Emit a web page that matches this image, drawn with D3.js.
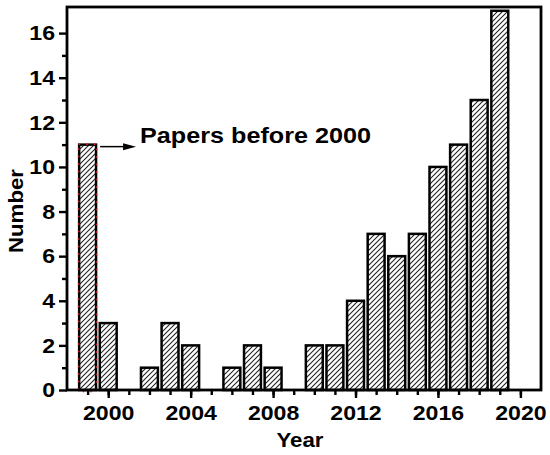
<!DOCTYPE html>
<html>
<head>
<meta charset="utf-8">
<script src="https://cdn.jsdelivr.net/npm/d3@7"></script>
<style>
  html, body { margin: 0; padding: 0; background: #fff; }
  svg { display: block; }
  text { font-family: "Liberation Sans", Arial, sans-serif; font-weight: bold; fill: #000; }
</style>
</head>
<body>
<svg id="chart" width="550" height="455"></svg>
<script>
// ---- data ----
const years = [1999, 2000, 2001, 2002, 2003, 2004, 2005, 2006, 2007, 2008, 2009,
               2010, 2011, 2012, 2013, 2014, 2015, 2016, 2017, 2018, 2019];
const counts = [11, 3, 0, 1, 3, 2, 0, 1, 2, 1, 0,
                2, 2, 4, 7, 6, 7, 10, 11, 13, 17];
const xTickLabels = [2000, 2004, 2008, 2012, 2016, 2020];
const yTickLabels = [0, 2, 4, 6, 8, 10, 12, 14, 16];
const annotationText = "Papers before 2000";
const xTitle = "Year";
const yTitle = "Number";

// ---- layout ----
const W = 550, H = 455;
const margin = { left: 67, top: 7, right: 9, bottom: 65 };
const iw = W - margin.left - margin.right;
const ih = H - margin.top - margin.bottom;

const svg = d3.select("#chart");
const defs = svg.append("defs");
const pat = defs.append("pattern")
  .attr("id", "hatch")
  .attr("patternUnits", "userSpaceOnUse")
  .attr("width", 5).attr("height", 5);
pat.append("rect").attr("width", 5).attr("height", 5).attr("fill", "#fff");
pat.append("path")
  .attr("d", "M0,5 L5,0 M-1,1 L1,-1 M4,6 L6,4")
  .attr("stroke", "#222").attr("stroke-width", 1.1);

const g = svg.append("g").attr("transform", `translate(${margin.left},${margin.top})`);

const x = d3.scaleLinear().domain([1998, 2021]).range([0, iw]);
const y = d3.scaleLinear().domain([0, 17.17]).range([ih, 0]);
const barW = (x(1) - x(0)) * 0.82;

// bars
const data = years.map((yr, i) => ({ year: yr, value: counts[i] }));
g.selectAll("rect.bar")
  .data(data.filter(d => d.value > 0))
  .enter().append("rect")
  .attr("class", "bar")
  .attr("x", d => x(d.year) - barW / 2)
  .attr("y", d => y(d.value))
  .attr("width", barW)
  .attr("height", d => y(0) - y(d.value))
  .attr("fill", "url(#hatch)")
  .attr("stroke", "#000")
  .attr("stroke-width", 2.5);

// red dotted highlight on first bar
const first = data[0];
g.append("rect")
  .attr("x", x(first.year) - barW / 2 - 0.5)
  .attr("y", y(first.value) - 0.5)
  .attr("width", barW + 1)
  .attr("height", y(0) - y(first.value) + 2)
  .attr("fill", "none")
  .attr("stroke", "#e0202a")
  .attr("stroke-width", 1.6)
  .attr("stroke-dasharray", "1.5,6");

// axes: minor ticks
const xMinor = d3.range(1999, 2021);
const xAxisMinor = d3.axisBottom(x).tickValues(xMinor).tickSize(5).tickFormat("");
const gxm = g.append("g").attr("transform", `translate(0,${ih})`).call(xAxisMinor);
const xAxis = d3.axisBottom(x).tickValues(xTickLabels).tickSize(8).tickPadding(7)
  .tickFormat(d3.format("d"));
const gx = g.append("g").attr("transform", `translate(0,${ih})`).call(xAxis);

const yMinor = d3.range(1, 17, 2);
const yAxisMinor = d3.axisLeft(y).tickValues(yMinor).tickSize(5).tickFormat("");
const gym = g.append("g").call(yAxisMinor);
const yAxis = d3.axisLeft(y).tickValues(yTickLabels).tickSize(8).tickPadding(4);
const gy = g.append("g").call(yAxis);

[gxm, gx, gym, gy].forEach(a => {
  a.select(".domain").remove();
  a.selectAll(".tick line").attr("stroke", "#000").attr("stroke-width", 2.4);
});
gx.selectAll(".tick text")
  .style("font-size", "21px")
  .attr("transform", "scale(1.1,1)")
  .attr("dy", "0.71em");
gy.selectAll(".tick text")
  .style("font-size", "21px")
  .attr("text-anchor", "end");
gy.selectAll(".tick text").each(function () {
  const t = d3.select(this);
  const xx = +t.attr("x");
  t.attr("x", null).attr("transform", `translate(${xx},0) scale(1.1,1)`);
});

// frame
g.append("rect")
  .attr("x", 0).attr("y", 0).attr("width", iw).attr("height", ih)
  .attr("fill", "none").attr("stroke", "#000").attr("stroke-width", 2.8);

// annotation arrow
const ax0 = x(first.year) + barW / 2 + 4;
const ay = y(11) + 2;
g.append("line")
  .attr("x1", ax0).attr("y1", ay).attr("x2", ax0 + 26).attr("y2", ay)
  .attr("stroke", "#000").attr("stroke-width", 1.5);
g.append("path")
  .attr("d", `M${ax0 + 36},${ay} L${ax0 + 23},${ay - 3.5} L${ax0 + 23},${ay + 3.5} Z`)
  .attr("fill", "#000");
g.append("text")
  .attr("transform", `translate(${ax0 + 40},${ay - 4}) scale(1.12,1)`)
  .style("font-size", "22.5px")
  .text(annotationText);

// axis titles
svg.append("text")
  .attr("transform", `translate(${margin.left + iw / 2 - 4},${H - 8}) scale(1.06,1)`)
  .attr("text-anchor", "middle")
  .style("font-size", "21px")
  .text(xTitle);
svg.append("text")
  .attr("transform", `translate(23,${211}) rotate(-90) scale(1.06,1)`)
  .attr("text-anchor", "middle")
  .style("font-size", "21px")
  .text(yTitle);
</script>
</body>
</html>
